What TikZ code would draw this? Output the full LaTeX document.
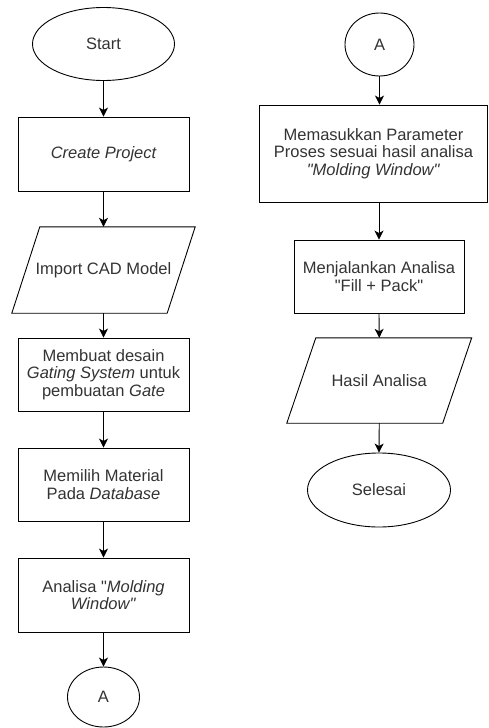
\documentclass[tikz,border=0pt]{standalone}
\usepackage{fontspec}
\setmainfont{Liberation Sans}
\usetikzlibrary{shapes.geometric,arrows.meta}
\definecolor{txt}{HTML}{333333}
\newcommand{\dq}{\textquotedbl}
\begin{document}
\begin{tikzpicture}[x=1pt,y=-1pt,
  every node/.style={font=\fontsize{16.5}{17.5}\selectfont, text=txt, align=center, inner sep=0pt},
  proc/.style={draw, line width=0.9pt, rectangle, minimum width=171pt, minimum height=74pt},
  term/.style={draw, line width=0.9pt, ellipse},
  io/.style={rectangle, minimum height=86pt, minimum width=155pt},
  para/.style={line width=0.9pt},
  flow/.style={draw, line width=0.9pt, -{Stealth[length=9pt,width=9pt,inset=2.5pt]}}]
\useasboundingbox (0,0) rectangle (488,728);

% left column
\node[term, minimum width=142pt, minimum height=73pt] (start) at (103.5,44) {Start};
\node[proc] (create) at (103.5,154) {\itshape Create Project};
\node[io] (import) at (103.5,270) {Import CAD Model};
\draw[para] ([xshift=14pt]import.north west) -- ([xshift=14pt]import.north east)
  -- ([xshift=-14pt]import.south east) -- ([xshift=-14pt]import.south west) -- cycle;
\node[proc, minimum height=73pt] (gate) at (103.5,374.5) {Membuat desain\\\textit{Gating System} untuk\\pembuatan \textit{Gate}};
\node[proc, minimum height=73pt] (mat) at (103.5,484.5) {Memilih Material\\Pada \textit{Database}};
\node[proc] (mw) at (103.5,595) {Analisa \dq\textit{Molding}\\\textit{Window\dq}};
\node[term, minimum width=72pt, minimum height=60pt] (a1) at (103.5,697) {A};

% right column
\node[term, minimum width=69pt, minimum height=63pt] (a2) at (379.5,44.5) {A};
\node[proc, minimum width=228pt, minimum height=97pt] (masuk) at (373.5,153.5) {Memasukkan Parameter\\Proses sesuai hasil analisa\\\textit{\dq Molding Window\dq}};
\node[proc, minimum width=170pt, minimum height=73pt] (run) at (379,276.5) {Menjalankan Analisa\\\dq Fill + Pack\dq};
\node[io, minimum width=155.5pt, minimum height=85pt] (hasil) at (379.25,380.5) {Hasil Analisa};
\draw[para] ([xshift=14.5pt]hasil.north west) -- ([xshift=14.5pt]hasil.north east)
  -- ([xshift=-14.5pt]hasil.south east) -- ([xshift=-14.5pt]hasil.south west) -- cycle;
\node[term, minimum width=143pt, minimum height=74pt] (end) at (379,490) {Selesai};

% connectors
\draw[flow] (start.south) -- (create.north);
\draw[flow] (create.south) -- (import.north);
\draw[flow] (import.south) -- (gate.north);
\draw[flow] (gate.south) -- (mat.north);
\draw[flow] (mat.south) -- (mw.north);
\draw[flow] (mw.south) -- (a1.north);
\draw[flow] (a2.south) -- (a2.south |- masuk.north);
\draw[flow] (run.north |- masuk.south) -- (run.north);
\draw[flow] (run.south) -- (hasil.north);
\draw[flow] (hasil.south) -- (end.north);
\end{tikzpicture}
\end{document}
